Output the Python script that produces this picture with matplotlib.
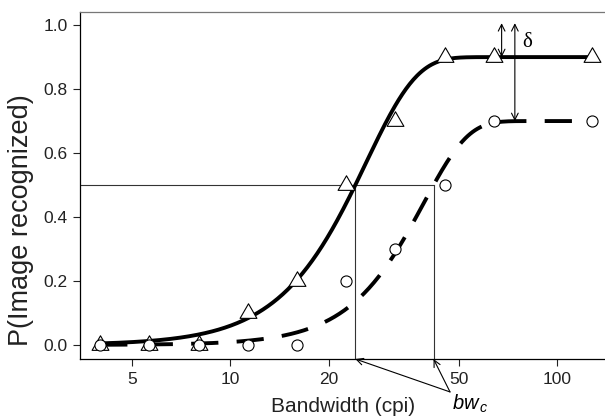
import numpy as np
import matplotlib.pyplot as plt
from matplotlib.ticker import NullLocator
from matplotlib.path import Path

plt.rcParams['font.family'] = 'Liberation Sans'
plt.rcParams['mathtext.fontset'] = 'custom'
plt.rcParams['mathtext.it'] = 'Liberation Sans:italic'
plt.rcParams['mathtext.rm'] = 'Liberation Sans'

# bandwidth steps (cpi) and proportion recognized
bandwidth = [4, 5.66, 8, 11.31, 16, 22.63, 32, 45.25, 64, 128]
p_triangle = [0, 0, 0, 0.1, 0.2, 0.5, 0.7, 0.9, 0.9, 0.9]
p_circle = [0, 0, 0, 0, 0, 0.2, 0.3, 0.5, 0.7, 0.7]

# Weibull fits: (asymptote, scale, slope)
fit_triangle = (0.9, 26.0, 2.8)
fit_circle = (0.7, 39.0, 3.2)

xticks = [5, 10, 20, 50, 100]
yticks = [0.0, 0.2, 0.4, 0.6, 0.8, 1.0]
criterion = 0.5


def weibull(x, a, alpha, beta):
    return a * (1 - np.exp(-(x / alpha) ** beta))


def threshold(p, a, alpha, beta):
    return alpha * (-np.log(1 - p / a)) ** (1 / beta)


fig = plt.figure(figsize=(6.05, 4.16), dpi=100)
ax = fig.add_axes([80 / 605, 57 / 416, 525 / 605, 347 / 416])
ax.set_xscale('log')
x0, x1 = 3.47, 140
y0, y1 = -0.044, 1.041
ax.set_xlim(x0, x1)
ax.set_ylim(y0, y1)

# fitted curves
xs = np.geomspace(bandwidth[0], bandwidth[-1], 400)
ax.plot(xs, weibull(xs, *fit_triangle), color='k', lw=2.8, zorder=2)
ax.plot(xs, weibull(xs, *fit_circle), color='k', lw=2.8, dashes=(7, 4.7), zorder=2)

# criterion lines
bw1 = threshold(criterion, *fit_triangle)
bw2 = threshold(criterion, *fit_circle)
ax.plot([x0, bw2], [criterion, criterion], color='#333333', lw=0.8, zorder=1)
ax.vlines([bw1, bw2], y0, criterion, color='#333333', lw=0.8, zorder=1)

# data markers
tri = Path([(0, 1.155), (-1, -0.577), (1, -0.577), (0, 1.155)],
           [Path.MOVETO, Path.LINETO, Path.LINETO, Path.CLOSEPOLY])
ax.plot(bandwidth, p_triangle, ls='none', marker=tri, ms=14, mfc='white',
        mec='k', mew=0.8, zorder=3)
ax.plot(bandwidth, p_circle, ls='none', marker='o', ms=8, mfc='white',
        mec='k', mew=0.8, zorder=4)

# delta arrows
arrow = dict(arrowstyle='<->', lw=0.8, color='k', shrinkA=0, shrinkB=0,
             mutation_scale=12)
ax.annotate('', xy=(67.6, fit_triangle[0]), xytext=(67.6, 1.006), arrowprops=arrow)
ax.annotate('', xy=(74.2, fit_circle[0]), xytext=(74.2, 1.006), arrowprops=arrow)
ax.text(78, 0.947, 'δ', family='Liberation Serif', fontsize=15,
        ha='left', va='center')

# bw_c arrows
for bw in (bw1, bw2):
    ax.annotate('', xy=(bw, y0), xytext=(47, -0.147), annotation_clip=False,
                arrowprops=dict(arrowstyle='->', lw=0.8, color='k',
                                shrinkA=0, shrinkB=0, mutation_scale=12))
ax.text(47.6, -0.203, r'$bw_{\,c}$', fontsize=14.5, ha='left', va='baseline',
        clip_on=False)

ax.xaxis.set_minor_locator(NullLocator())
ax.set_xticks(xticks)
ax.set_xticklabels([str(t) for t in xticks])
ax.set_yticks(yticks)
ax.set_yticklabels(['%.1f' % t for t in yticks])
ax.tick_params(direction='out', length=5, width=0.8, labelsize=12.5,
               colors='#222222', pad=4)

ax.spines['right'].set_visible(False)
ax.spines['top'].set_color('#777777')
for s in ('left', 'bottom', 'top'):
    ax.spines[s].set_linewidth(0.9)

ax.set_xlabel('Bandwidth (cpi)', fontsize=15, color='#222222')
ax.xaxis.set_label_coords(263 / 525, -0.11)
ax.set_ylabel('P(Image recognized)', fontsize=19.5, color='#222222')
ax.yaxis.set_label_coords(-0.088, 0.40)

fig.savefig('out.png', dpi=100)
